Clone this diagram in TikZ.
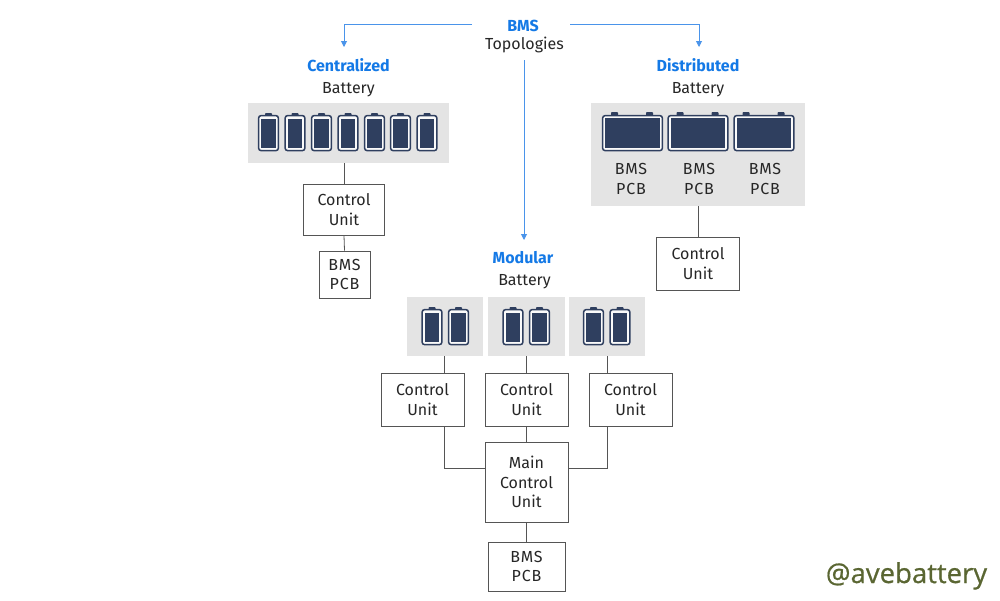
\documentclass[tikz,border=0pt]{standalone}
\usepackage{fontspec}
\setmainfont{Fira Sans}[Scale=1]
\newfontfamily\wmfont{Open Sans}[FakeBold=0.6]
\usetikzlibrary{arrows.meta}
\definecolor{bluetxt}{HTML}{1479E6}
\definecolor{bluearrow}{HTML}{4A94EA}
\definecolor{navy}{HTML}{2F3F5F}
\definecolor{panel}{HTML}{E4E4E4}
\definecolor{linegray}{HTML}{555555}
\definecolor{olive}{HTML}{5A6632}
\tikzset{
  x=1pt,y=-1pt,
  lbl/.style={font=\fontsize{16}{19.5}\selectfont,text=black!85,align=center,inner sep=0pt},
  pcbtext/.style={font=\fontsize{16}{19.5}\selectfont\addfontfeature{LetterSpace=5}},
  head/.style={font=\fontsize{16}{19}\selectfont\bfseries,text=bluetxt,inner sep=0pt},
  boxn/.style={draw=linegray,line width=0.8pt,fill=white,font=\fontsize{16}{19.5}\selectfont,text=black!85,align=center,inner sep=0pt},
  panelbox/.style={fill=panel,inner sep=0pt},
  conn/.style={draw=linegray,line width=0.8pt},
  barrow/.style={draw=bluearrow,line width=0.9pt,-{Triangle[length=6pt,width=6pt]}},
  bline/.style={draw=bluearrow,line width=0.9pt},
}
\newcommand{\tallcell}[1]{%
  \fill[navy,rounded corners=0.8pt] (#1+7,113) rectangle (#1+14,117);
  \draw[navy,line width=1.5pt,fill=white!80!panel,rounded corners=2.5pt] (#1+0.6,115.6) rectangle (#1+20.4,150.6);
  \fill[navy] (#1+3.4,118.6) rectangle (#1+17.6,147.6);
}
\newcommand{\modcell}[1]{%
  \fill[navy,rounded corners=0.8pt] (#1+7,307) rectangle (#1+14,311);
  \draw[navy,line width=1.5pt,fill=white!80!panel,rounded corners=2.5pt] (#1+0.6,309.6) rectangle (#1+20.4,344.6);
  \fill[navy] (#1+3.4,312.6) rectangle (#1+17.6,341.6);
}
\newcommand{\widecell}[1]{%
  \fill[navy,rounded corners=0.8pt] (#1+9,112) rectangle (#1+16,117);
  \fill[navy,rounded corners=0.8pt] (#1+44,112) rectangle (#1+51,117);
  \draw[navy,line width=1.5pt,fill=white!80!panel,rounded corners=2.5pt] (#1+0.6,115.6) rectangle (#1+60.4,150.6);
  \fill[navy] (#1+3.4,118.4) rectangle (#1+57.6,147.8);
}
\begin{document}
\begin{tikzpicture}
\useasboundingbox (0,0) rectangle (1000,600);
\fill[white] (0,0) rectangle (1000,600);
% titles
\node[head] (bms) at (523,25.5) {BMS};
\node[lbl] (topo) at (524.5,44.5) {Topologies};
\node[head] (cenh) at (348.5,65.5) {Centralized};
\node[lbl] (cenb) at (348.5,90) {Battery};
\node[head] (dish) at (698,65.5) {Distributed};
\node[lbl] (disb) at (698,90) {Battery};
\node[head] (modh) at (523,257.5) {Modular};
\node[lbl] (modb) at (524.5,281.5) {Battery};
% panels
\node[panelbox,minimum width=201pt,minimum height=60pt] (cpanel) at (348.5,133) {};
\node[panelbox,minimum width=214pt,minimum height=103pt] (dpanel) at (698,154.5) {};
\node[panelbox,minimum width=76pt,minimum height=59pt] (mp1) at (445,326.5) {};
\node[panelbox,minimum width=77pt,minimum height=59pt] (mp2) at (526.5,326.5) {};
\node[panelbox,minimum width=76pt,minimum height=59pt] (mp3) at (607,326.5) {};
% batteries
\foreach \xx in {258,284.5,311,337.5,364,390,416.5}{\tallcell{\xx}}
\foreach \xx in {602,667.5,733.5}{\widecell{\xx}}
\foreach \xx in {421.5,448,502.5,529,583,609.5}{\modcell{\xx}}
% dist labels
\node[lbl,pcbtext] (dl1) at (631,179) {BMS\\PCB};
\node[lbl,pcbtext] (dl2) at (699,179) {BMS\\PCB};
\node[lbl,pcbtext] (dl3) at (765,179) {BMS\\PCB};
% boxes
\node[boxn,minimum width=81pt,minimum height=51pt] (ccu) at (344,209.5) {Control\\Unit};
\node[boxn,pcbtext,minimum width=51pt,minimum height=47pt] (cpcb) at (344.5,274.5) {BMS\\PCB};
\node[boxn,minimum width=83pt,minimum height=53pt] (dcu) at (698,263.5) {Control\\Unit};
\node[boxn,minimum width=83pt,minimum height=53pt] (mcu1) at (422.5,399.5) {Control\\Unit};
\node[boxn,minimum width=83pt,minimum height=53pt] (mcu2) at (526.5,399.5) {Control\\Unit};
\node[boxn,minimum width=83pt,minimum height=53pt] (mcu3) at (630.5,399.5) {Control\\Unit};
\node[boxn,minimum width=83pt,minimum height=80pt] (main) at (526.5,482) {Main\\Control\\Unit};
\node[boxn,pcbtext,minimum width=77pt,minimum height=49pt] (mpcb) at (526.5,566.5) {BMS\\PCB};
% blue arrows
\coordinate (blL) at (472,24);
\coordinate (blR) at (570,24);
\coordinate (blD) at (524,60);
\coordinate (tipL) at (344,47);
\coordinate (tipR) at (699,47);
\coordinate (tipD) at (524,240);
\draw[barrow] (blL) -| (tipL);
\draw[barrow] (blR) -| (tipR);
\draw[barrow] (blD) -- (tipD);
% connectors
\draw[conn] (ccu.north |- cpanel.south) -- (ccu.north);
\draw[conn] (ccu.south) -- (cpcb.north);
\draw[conn] (dcu.north |- dpanel.south) -- (dcu.north);
\coordinate (m1x) at (444,400);
\coordinate (m3x) at (607,400);
\draw[conn] (m1x |- mp1.south) -- (m1x |- mcu1.north);
\draw[conn] (mcu2.north |- mp2.south) -- (mcu2.north);
\draw[conn] (m3x |- mp3.south) -- (m3x |- mcu3.north);
\draw[conn] (m1x |- mcu1.south) |- (main.west |- 0,468);
\draw[conn] (m3x |- mcu3.south) |- (main.east |- 0,468);
\draw[conn] (mcu2.south) -- (main.north);
\draw[conn] (main.south) -- (mpcb.north);
% watermark
\node[font=\wmfont\fontsize{27.5}{32}\selectfont,text=olive,inner sep=0pt,anchor=base] (wm) at (906.5,583) {@avebattery};
\end{tikzpicture}
\end{document}
